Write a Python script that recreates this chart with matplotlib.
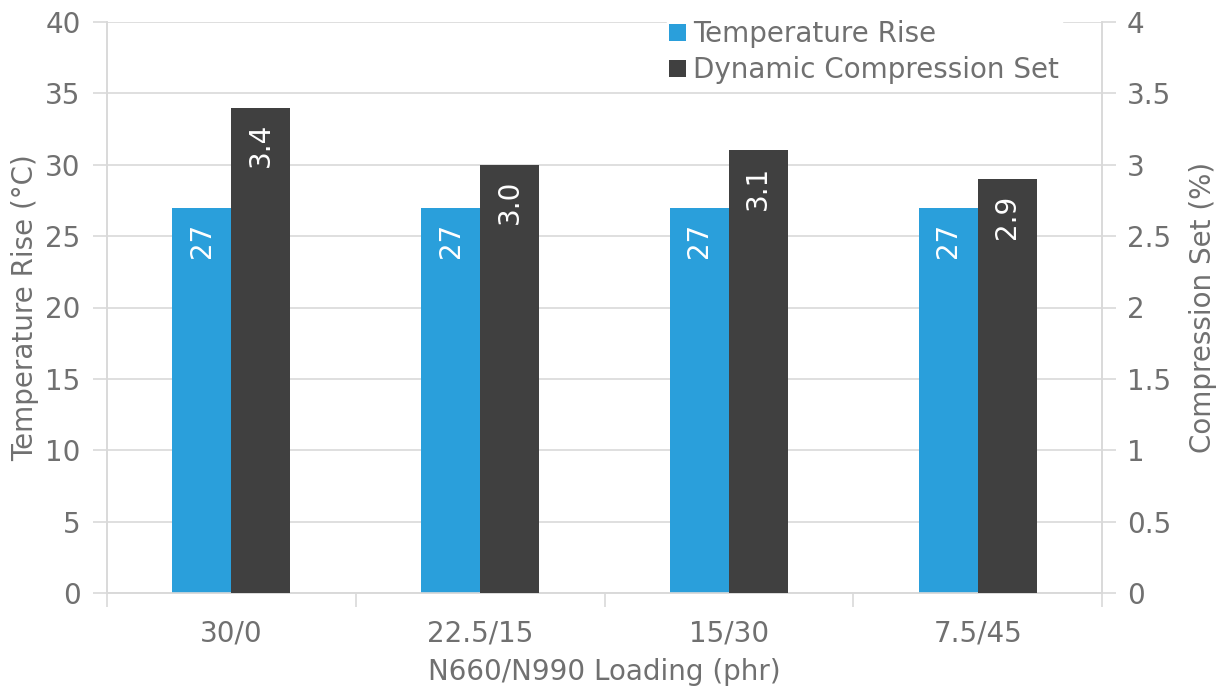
import numpy as np
import matplotlib
matplotlib.use("Agg")
import matplotlib.pyplot as plt

# N660/N990 loading ratios and measured results
loadings = ["30/0", "22.5/15", "15/30", "7.5/45"]
temp_rise = [27, 27, 27, 27]          # degC
comp_set = [3.4, 3.0, 3.1, 2.9]       # %

BLUE = "#2a9fdb"
DARK = "#404040"
TEXT = "#707070"
GRID = "#d9d9d9"
FS = 20

plt.rcParams["font.family"] = ["DejaVu Sans"]
plt.rcParams["font.sans-serif"] = ["DejaVu Sans"]
plt.rcParams["font.size"] = FS

fig = plt.figure(figsize=(12.25, 6.9), dpi=100)
ax = fig.add_axes([107 / 1225, 97 / 690, 995 / 1225, 571 / 690])
ax2 = ax.twinx()

x = np.arange(len(loadings))
w = 0.237

b1 = ax.bar(x - w / 2, temp_rise, w, color=BLUE, label="Temperature Rise", zorder=3)
b2 = ax2.bar(x + w / 2, comp_set, w, color=DARK, label="Dynamic Compression Set", zorder=3)

ax.set_xlim(-0.5, len(loadings) - 0.5)
ax.set_ylim(0, 40)
ax2.set_ylim(0, 4)
ax.set_yticks(np.arange(0, 41, 5))
ax2.set_yticks(np.arange(0, 4.01, 0.5))
ax2.set_yticklabels(["0", "0.5", "1", "1.5", "2", "2.5", "3", "3.5", "4"])

# category ticks sit between the groups
ax.set_xticks(x)
ax.set_xticklabels(loadings)
ax.set_xticks(np.arange(-0.5, len(loadings)), minor=True)
ax.tick_params(axis="x", which="major", length=0, pad=19, colors=TEXT)
ax.tick_params(axis="x", which="minor", length=10, width=1.2, color=GRID)
ax.tick_params(axis="y", length=10, width=1.2, color=GRID, labelcolor=TEXT, pad=9)
ax2.tick_params(axis="y", length=10, width=1.2, color=GRID, labelcolor=TEXT, pad=8)

ax.grid(axis="y", color=GRID, linewidth=1.2, zorder=0)
for a in (ax, ax2):
    a.spines["top"].set_visible(False)
    for s in ("left", "right", "bottom"):
        a.spines[s].set_color(GRID)
        a.spines[s].set_linewidth(1.2)
ax2.set_zorder(ax.get_zorder() + 1)
ax.patch.set_visible(False)

ax.set_xlabel("N660/N990 Loading (phr)", color=TEXT, labelpad=8)
ax.set_ylabel("Temperature Rise (°C)", color=TEXT, labelpad=4)
ax2.set_ylabel("Compression Set (%)", color=TEXT, labelpad=13)

# value labels, rotated, just inside the top of each bar
for rect, v in zip(b1, temp_rise):
    ax.annotate(f"{v:d}", (rect.get_x() + rect.get_width() / 2, rect.get_height()),
                xytext=(0, -11), textcoords="offset points", rotation=90,
                ha="center", va="top", color="white", fontsize=FS, zorder=4)
for rect, v in zip(b2, comp_set):
    ax2.annotate(f"{v:.1f}", (rect.get_x() + rect.get_width() / 2, rect.get_height()),
                 xytext=(0, -11), textcoords="offset points", rotation=90,
                 ha="center", va="top", color="white", fontsize=FS, zorder=4)

leg = ax2.legend(handles=[b1, b2], loc="upper right", bbox_to_anchor=(0.9735, 1.032),
                 frameon=True, fancybox=False, edgecolor="white", framealpha=1,
                 handlelength=0.6, handleheight=0.6, handletextpad=0.25,
                 labelspacing=0.28, borderpad=0.1, fontsize=FS)
for t in leg.get_texts():
    t.set_color(TEXT)

fig.savefig("out.png", dpi=100, facecolor="white")
